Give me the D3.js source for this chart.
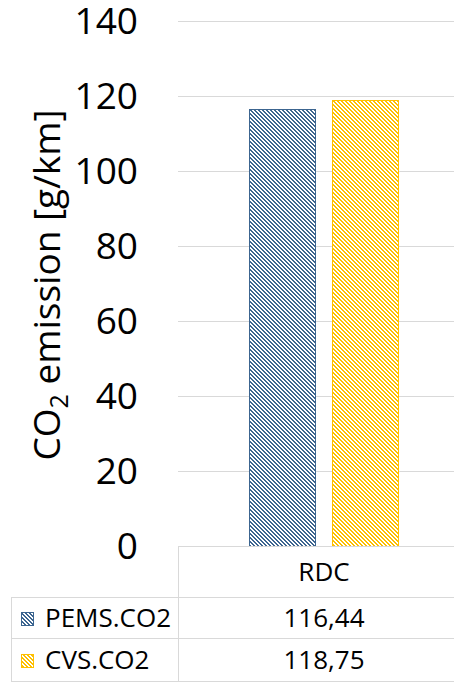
<!DOCTYPE html>
<html><head><meta charset="utf-8">
<script src="https://cdn.jsdelivr.net/npm/d3@7"></script>
<style>body{margin:0;background:#fff}svg{display:block}</style>
</head><body>
<script>
const categories = ["RDC"];
const seriesNames = ["PEMS.CO2", "CVS.CO2"];
const pemsValues = [116.44];
const cvsValues = [118.75];
const valueLabels = [["116,44"], ["118,75"]];
const yTicks = [0, 20, 40, 60, 80, 100, 120, 140];
const seriesColors = ["#3C6590", "#FFC000"];

const W = 454, H = 682;
const FONT = "'Open Sans', sans-serif";
const svg = d3.select("body").append("svg").attr("width", W).attr("height", H);

const y = d3.scaleLinear().domain([0, 140]).range([545.5, 20.5]);
const x0 = d3.scaleBand().domain(categories).range([178, 470]);
const x1 = d3.scaleBand().domain(seriesNames).range([0, x0.bandwidth()]).paddingInner(0.193).paddingOuter(0.855);

const defs = svg.append("defs");
seriesColors.forEach((c, i) => {
  const p = defs.append("pattern").attr("id", "pat" + i).attr("patternUnits", "userSpaceOnUse")
    .attr("width", 4).attr("height", 4);
  p.append("rect").attr("width", 4).attr("height", 4).attr("fill", "#fff");
  [[0, 0], [1, 1], [2, 2], [3, 3]].forEach(([r, sx]) => {
    p.append("rect").attr("x", sx).attr("y", r).attr("width", 2).attr("height", 1).attr("fill", c);
    if (sx === 3) p.append("rect").attr("x", 0).attr("y", r).attr("width", 1).attr("height", 1).attr("fill", c);
  });
});

// gridlines
svg.append("g").selectAll("line").data(yTicks.filter(t => t > 0)).join("line")
  .attr("x1", 178).attr("x2", W).attr("y1", d => Math.round(y(d)) + 0.5).attr("y2", d => Math.round(y(d)) + 0.5)
  .attr("stroke", "#d9d9d9").attr("stroke-width", 1);

// y tick labels
svg.append("g").selectAll("text").data(yTicks).join("text")
  .attr("x", 138).attr("y", d => y(d)).attr("dy", "0.36em").attr("text-anchor", "end")
  .attr("font-family", FONT).attr("font-size", 37).attr("fill", "#000").text(d => d);

// y title
const title = svg.append("text").attr("transform", "translate(60,285) rotate(-90)")
  .attr("text-anchor", "middle").attr("font-family", FONT).attr("font-size", 37).attr("fill", "#000");
title.append("tspan").text("CO");
title.append("tspan").attr("font-size", 25).attr("dy", 8).text("2");
title.append("tspan").attr("dy", -8).text(" emission [g/km]");

// bars
const seriesData = [pemsValues, cvsValues];
seriesNames.forEach((s, i) => {
  svg.append("g").selectAll("rect").data(categories).join("rect")
    .attr("x", c => Math.round(x0(c) + x1(s)) + 0.5)
    .attr("y", (c, j) => Math.round(y(seriesData[i][j])) + 0.5)
    .attr("width", Math.round(x1.bandwidth()) - 1)
    .attr("height", (c, j) => Math.round(y(0)) - Math.round(y(seriesData[i][j])))
    .attr("fill", `url(#pat${i})`).attr("stroke", seriesColors[i]).attr("stroke-width", 1);
});

// data table
const tg = svg.append("g").attr("stroke", "#d9d9d9").attr("stroke-width", 1);
const rowY = [546.5, 597.5, 638.5, 681.5];
tg.append("line").attr("x1", 178).attr("x2", W).attr("y1", rowY[0]).attr("y2", rowY[0]);
[1, 2, 3].forEach(k => tg.append("line").attr("x1", 11).attr("x2", W).attr("y1", rowY[k]).attr("y2", rowY[k]));
tg.append("line").attr("x1", 178.5).attr("x2", 178.5).attr("y1", rowY[0]).attr("y2", rowY[3]);
tg.append("line").attr("x1", 11.5).attr("x2", 11.5).attr("y1", rowY[1]).attr("y2", rowY[3]);

svg.append("g").selectAll("text").data(categories).join("text")
  .attr("x", c => x0(c) + x0.bandwidth() / 2).attr("y", (rowY[0] + rowY[1]) / 2).attr("dy", "0.36em")
  .attr("text-anchor", "middle").attr("font-family", FONT).attr("font-size", 26).text(c => c);

seriesNames.forEach((s, i) => {
  const cy = (rowY[i + 1] + rowY[i + 2]) / 2;
  svg.append("rect").attr("x", 21.5).attr("y", Math.round(cy - 6.5) + 0.5).attr("width", 12).attr("height", 13)
    .attr("fill", `url(#pat${i})`).attr("stroke", seriesColors[i]).attr("stroke-width", 1);
  svg.append("text").attr("x", 45).attr("y", cy).attr("dy", "0.36em")
    .attr("font-family", FONT).attr("font-size", 26).text(s);
  svg.append("g").selectAll("text").data(categories).join("text")
    .attr("x", c => x0(c) + x0.bandwidth() / 2).attr("y", cy).attr("dy", "0.36em")
    .attr("text-anchor", "middle").attr("font-family", FONT).attr("font-size", 26)
    .text((c, j) => valueLabels[i][j]);
});
</script>
</body></html>
